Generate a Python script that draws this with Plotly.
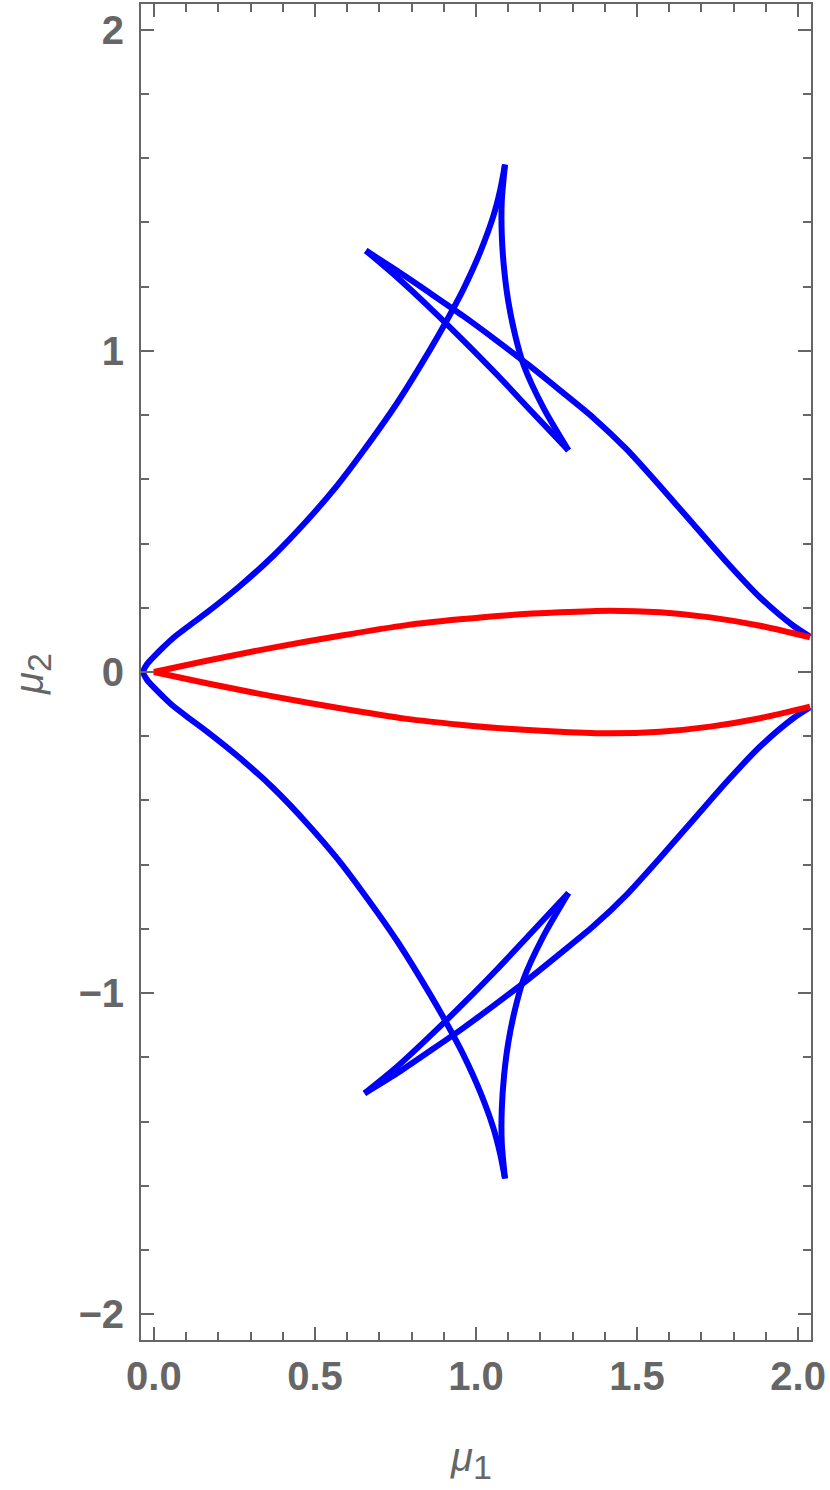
import plotly.graph_objects as go

# colours as in the Mathematica default frame style
BLUE = "#0000ff"
RED = "#ff0000"
FRAME = "#666666"

# blue: arc through the left nose, lower cusp -> upper cusp
arc_x = [1.090, 1.075, 1.054, 1.012, 0.961, 0.914, 0.857, 0.754, 0.650, 0.570, 0.474, 0.371, 0.267, 0.164, 0.112,
         0.060, 0.029, 0.003, -0.021, -0.033,
         -0.021, 0.003, 0.029, 0.060, 0.112, 0.164, 0.267, 0.371, 0.474, 0.570, 0.650, 0.754, 0.857,
         0.914, 0.961, 1.012, 1.054, 1.075, 1.090]
arc_y = [-1.577, -1.500, -1.420, -1.305, -1.192, -1.103, -1.003, -0.836, -0.688, -0.582, -0.470, -0.362, -0.268,
         -0.185, -0.146, -0.106, -0.077, -0.051, -0.025, 0.0,
         0.025, 0.051, 0.077, 0.106, 0.146, 0.185, 0.268, 0.362, 0.470, 0.582, 0.688, 0.836, 1.003,
         1.103, 1.192, 1.305, 1.420, 1.500, 1.580]

# blue: cusp -> inner tip
up_b_x = [1.090, 1.080, 1.080, 1.087, 1.100, 1.121, 1.147, 1.209, 1.287]
up_b_y = [1.580, 1.466, 1.362, 1.258, 1.155, 1.051, 0.958, 0.823, 0.690]
lo_b_x = [1.090, 1.080, 1.080, 1.087, 1.100, 1.121, 1.147, 1.209, 1.287]
lo_b_y = [-1.577, -1.466, -1.362, -1.258, -1.155, -1.051, -0.958, -0.823, -0.688]

# blue: inner tip -> left tip
up_c_x = [1.287, 1.168, 1.064, 0.961, 0.857, 0.754, 0.658]
up_c_y = [0.690, 0.816, 0.927, 1.032, 1.134, 1.230, 1.312]
lo_c_x = [1.287, 1.168, 1.064, 0.961, 0.857, 0.754, 0.654]
lo_c_y = [-0.688, -0.816, -0.927, -1.032, -1.134, -1.230, -1.312]

# blue: left tip -> right edge
up_d_x = [0.658, 0.754, 0.857, 0.961, 1.064, 1.162, 1.261, 1.364, 1.468, 1.571, 1.675, 1.779, 1.882, 1.985, 2.037]
up_d_y = [1.312, 1.250, 1.180, 1.108, 1.032, 0.957, 0.877, 0.792, 0.693, 0.579, 0.460, 0.341, 0.232, 0.144, 0.110]
lo_d_x = [0.654, 0.754, 0.857, 0.961, 1.064, 1.162, 1.261, 1.364, 1.468, 1.571, 1.675, 1.779, 1.882, 1.985, 2.037]
lo_d_y = [-1.312, -1.250, -1.180, -1.108, -1.032, -0.957, -0.877, -0.792, -0.693, -0.579, -0.460, -0.341, -0.232,
          -0.144, -0.110]

# red lens
up_r_x = [0.0, 0.164, 0.370, 0.578, 0.785, 0.950, 1.100, 1.261, 1.416, 1.571, 1.727, 1.882, 2.037]
up_r_y = [0.0, 0.035, 0.076, 0.113, 0.146, 0.164, 0.177, 0.186, 0.191, 0.186, 0.170, 0.144, 0.108]
lo_r_x = [0.0, 0.164, 0.370, 0.578, 0.785, 0.950, 1.100, 1.261, 1.416, 1.571, 1.727, 1.882, 2.037]
lo_r_y = [0.0, -0.035, -0.076, -0.113, -0.146, -0.164, -0.177, -0.186, -0.191, -0.186, -0.170, -0.144, -0.108]

blue_parts = [
    (arc_x, arc_y),
    (up_b_x, up_b_y), (lo_b_x, lo_b_y),
    (up_c_x, up_c_y), (lo_c_x, lo_c_y),
    (up_d_x, up_d_y), (lo_d_x, lo_d_y),
]
red_parts = [(up_r_x, up_r_y), (lo_r_x, lo_r_y)]

fig = go.Figure()

for xs, ys in blue_parts:
    fig.add_trace(go.Scatter(x=xs, y=ys, mode="lines",
                             line=dict(color=BLUE, width=6, shape="spline", smoothing=0.7),
                             showlegend=False, hoverinfo="skip"))
for xs, ys in red_parts:
    fig.add_trace(go.Scatter(x=xs, y=ys, mode="lines",
                             line=dict(color=RED, width=6, shape="spline", smoothing=0.7),
                             showlegend=False, hoverinfo="skip"))

tick_font = dict(family="Liberation Sans, Arial, sans-serif", size=40, color=FRAME, weight="bold")
axis_common = dict(
    ticks="inside", ticklen=13, tickwidth=1.5, tickcolor=FRAME,
    showline=True, linecolor=FRAME, linewidth=2, mirror="ticks",
    showgrid=False, zeroline=False, tickfont=tick_font,
)

fig.update_xaxes(range=[-0.04, 2.04], tick0=0, dtick=0.5, tickformat=".1f",
                 minor=dict(dtick=0.1, ticks="inside", ticklen=8, tickwidth=1.5,
                            tickcolor=FRAME, showgrid=False),
                 ticklabelstandoff=0, **axis_common)
fig.update_yaxes(range=[-2.08, 2.08], tick0=0, dtick=1,
                 minor=dict(dtick=0.2, ticks="inside", ticklen=8, tickwidth=1.5,
                            tickcolor=FRAME, showgrid=False),
                 ticklabelstandoff=7, **axis_common)

title_font = dict(family="Liberation Sans, Arial, sans-serif", size=40, color=FRAME)
fig.add_annotation(text="<i>μ</i><sub><span style='font-size:34px'>1</span></sub>",
                   xref="paper", yref="paper", x=0.4925, y=-0.0904,
                   xanchor="center", yanchor="middle", showarrow=False, font=title_font)
fig.add_annotation(text="<i>μ</i><sub><span style='font-size:34px'>2</span></sub>",
                   xref="paper", yref="paper", x=-0.1627, y=0.4985, textangle=-90,
                   xanchor="center", yanchor="middle", showarrow=False, font=title_font)

fig.update_layout(
    width=830, height=1490,
    margin=dict(l=141, r=19, t=2, b=150),
    paper_bgcolor="white", plot_bgcolor="white",
)

# drop the browser's default body margin so the figure sits at the page corner
fig.write_html("out.html", config={"displayModeBar": False},
               post_script="document.body.style.margin = '0px';")
